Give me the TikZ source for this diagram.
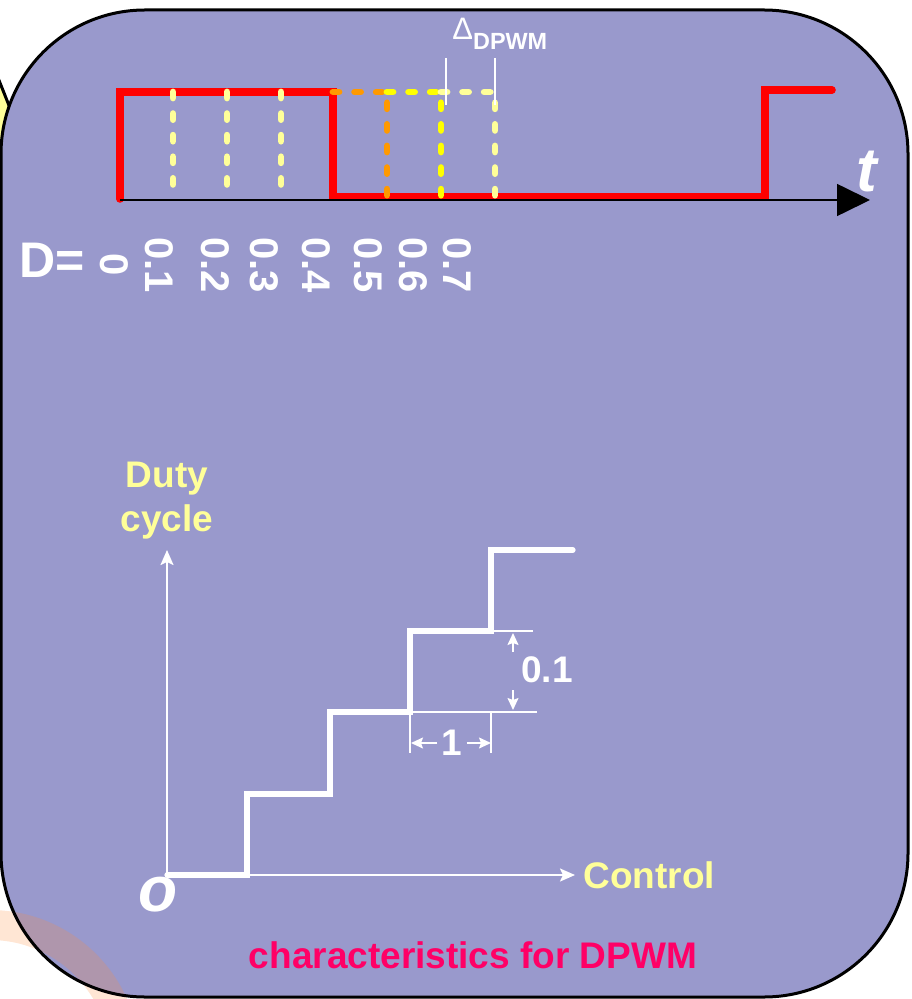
\documentclass[tikz,border=0pt]{standalone}
\usepackage{fontspec}
\setmainfont{Liberation Sans}
\usetikzlibrary{arrows.meta,positioning}
\definecolor{PanelBlue}   {RGB}{153,153,204}
\definecolor{PaleYellow}  {RGB}{255,255,153}
\definecolor{BrightYellow}{RGB}{255,255,0}
\definecolor{DashOrange}  {RGB}{255,153,0}
\definecolor{WaveRed}     {RGB}{255,0,0}
\definecolor{CaptionPink} {RGB}{255,0,102}
\definecolor{RingOrange}  {RGB}{255,140,60}

\begin{document}
\begin{tikzpicture}[x=0.5pt,y=-0.5pt,
  wave/.style={WaveRed,line width=3.8pt,line cap=round},
  dutyline/.style={line width=3.4pt,line cap=round,dash pattern=on 3pt off 7.8pt},
  labeltxt/.style={font=\bfseries\fontsize{18.5}{22}\selectfont,inner sep=0pt},
  dlabel/.style={white,font=\bfseries\fontsize{20}{20}\selectfont,rotate=-90,inner sep=0pt},
  axisline/.style={white,line width=1pt,-{Stealth[length=7.5pt,width=6.5pt,inset=1.5pt]}},
  stair/.style={white,line width=2.6pt,line cap=round},
  dimline/.style={white,line width=0.7pt},
  dimarrow/.style={white,line width=0.8pt,-{Stealth[length=6pt,width=5.5pt,inset=1pt]}}]
  \useasboundingbox (0,0) rectangle (911,999);
  \clip (0,0) rectangle (911,999);
  % yellow shape peeking out on the left
  \filldraw[fill=PaleYellow,draw=black,line width=1.5pt]
       (-21,30) -- (10,108) -- (-21,250) -- cycle;
  % panel, ring behind it, border
  \fill[PanelBlue,rounded corners=72pt] (1,10) rectangle (908,997);
  \fill[RingOrange,opacity=0.22,even odd rule]
       (-10,1060) circle (75pt) (-10,1060) circle (60pt);
  \draw[line width=1.5pt,rounded corners=72pt] (1,10) rectangle (908,997);

  % PWM waveform
  \coordinate (t0) at (120,200);
  \coordinate (tend) at (870,200);
  \draw[wave] (120,199) -- (120,92) -- (333,92) -- (333,197)
       -- (765,197) -- (765,90) -- (832,90);
  % duty cycle steps
  \foreach \xx in {173,227,281}
    \draw[dutyline,PaleYellow] (\xx,92) -- (\xx,190);
  \draw[dutyline,DashOrange] (333,92) -- (387,92) -- (387,197);
  \draw[dutyline,BrightYellow] (387,92) -- (441,92) -- (441,197);
  \draw[dutyline,PaleYellow] (441,92) -- (495,92) -- (495,197);
  % time axis
  \draw[line width=0.8pt,-{Triangle[length=16.5pt,width=16pt]}] (t0) -- (tend);
  \node[white,font=\bfseries\itshape\fontsize{31}{31}\selectfont] (tlab)
       at (867,172) {t};
  % resolution mark
  \draw[white,line width=1.3pt] (446,58) -- (446,105);
  \draw[white,line width=1.3pt] (495,58) -- (495,105);
  \node[white,anchor=base west,inner sep=0pt,font=\fontsize{15.5}{16}\selectfont]
       (delta) at (452,40)
       {Δ\raisebox{-5pt}{\bfseries\fontsize{11.7}{12}\selectfont DPWM}};
  % duty values
  \node[white,font=\bfseries\fontsize{25}{25}\selectfont,inner sep=0pt]
       (Dlab) at (52,260) {D=};
  \foreach \xx/\dd [count=\i] in
       {114/0,159/0.1,215/0.2,264/0.3,316/0.4,368/0.5,413/0.6,457/0.7}
    \node[dlabel] (D\i) at (\xx,265) {\dd};

  % DPWM characteristic
  \coordinate (origin) at (167,875);
  \coordinate (ytip) at (167,550);
  \coordinate (xtip) at (575,875);
  \draw[stair] (origin) -- (247,875) -- (247,794) -- (330,794) -- (330,712)
       -- (410,712) -- (410,631) -- (491,631) -- (491,550) -- (573,550);
  \draw[axisline] (origin) -- (ytip);
  \draw[axisline] (origin) -- (xtip);
  \node[labeltxt,PaleYellow,align=center,above=5pt of ytip] (dutylab) {Duty\\cycle};
  \node[labeltxt,PaleYellow,right=4pt of xtip] (ctrllab) {Control};
  \node[white,font=\bfseries\itshape\fontsize{32}{32}\selectfont] (olab)
       at (158,895) {o};
  % step size
  \draw[dimline] (410,712) -- (537,712);
  \draw[dimline] (491,631) -- (533,631);
  \draw[dimline] (410,712) -- (410,753);
  \draw[dimline] (491,712) -- (491,753);
  \node[labeltxt,white] (tenth) at (547,670) {0.1};
  \coordinate (upTail) at (513,652);
  \coordinate (upTip) at (513,633);
  \coordinate (downTail) at (513,690);
  \coordinate (downTip) at (513,710);
  \draw[dimarrow] (upTail) -- (upTip);
  \draw[dimarrow] (downTail) -- (downTip);
  \node[labeltxt,white,inner sep=2pt] (unit) at (452,743) {1};
  \coordinate (leftTip) at (411,743);
  \coordinate (rightTip) at (491,743);
  \draw[dimarrow] (unit) -- (leftTip);
  \draw[dimarrow] (unit) -- (rightTip);
  % caption
  \node[labeltxt,CaptionPink] (caption) at (473,955) {characteristics for DPWM};
\end{tikzpicture}
\end{document}
